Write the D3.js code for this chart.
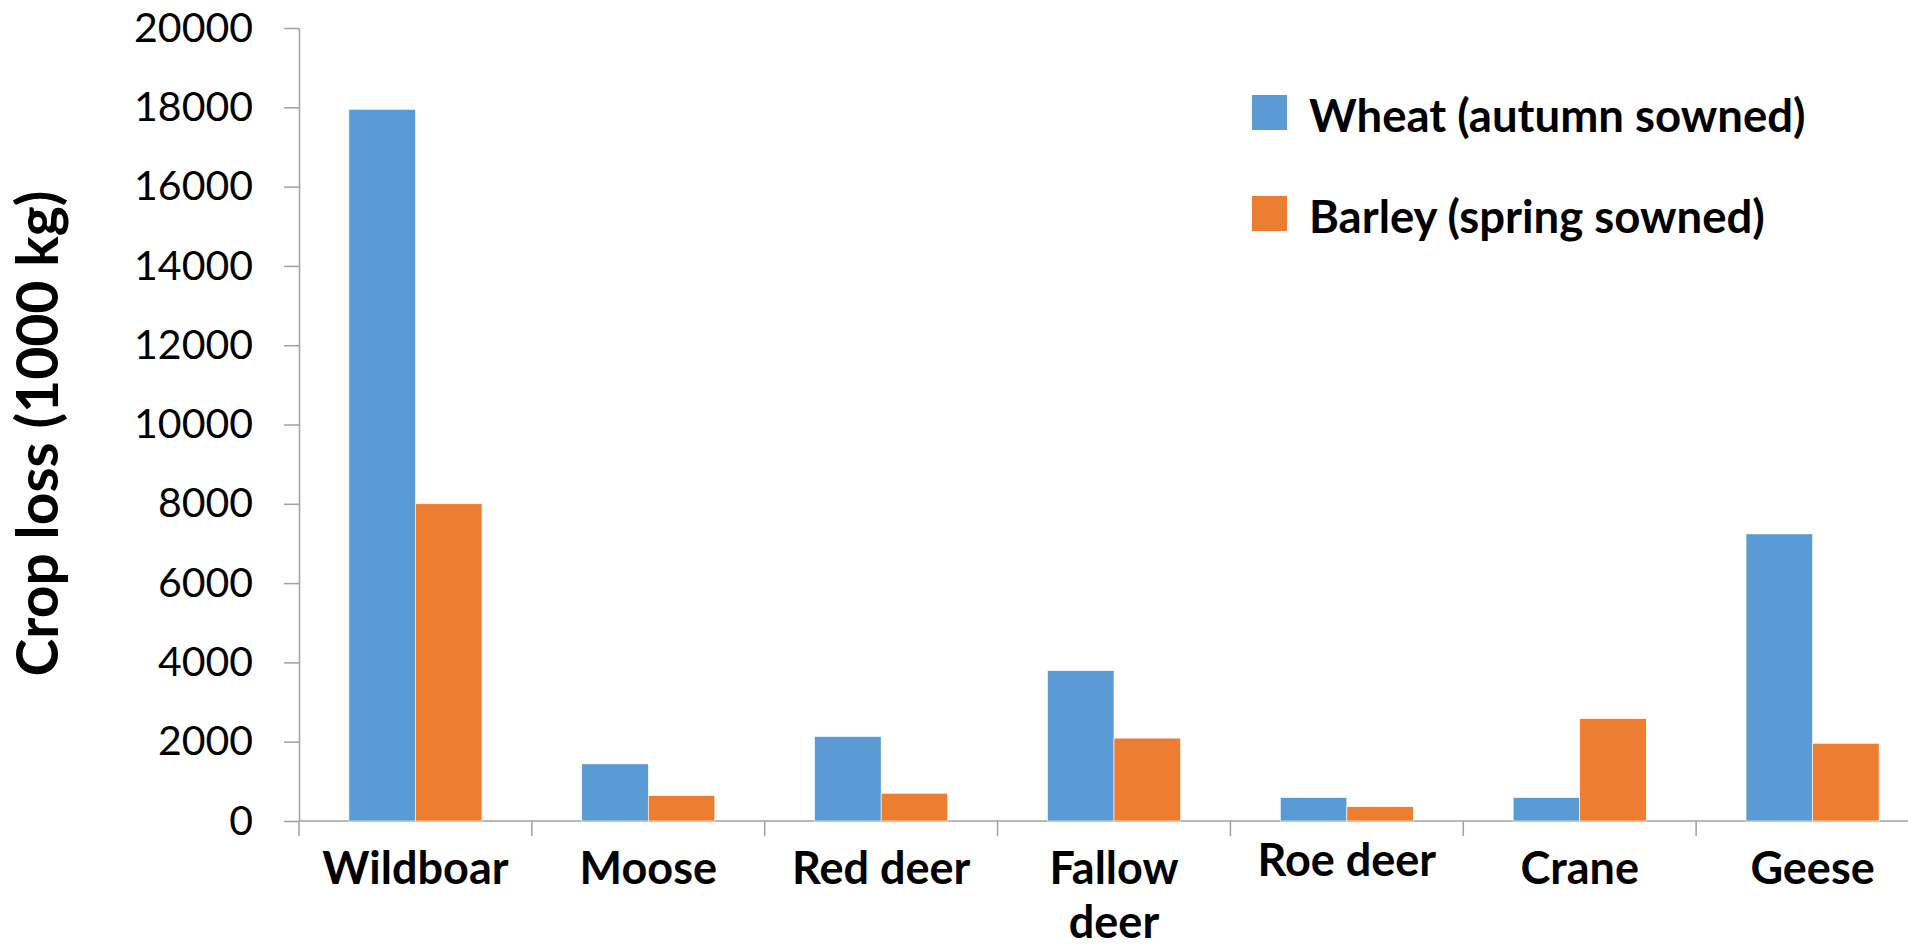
<!DOCTYPE html>
<head>
  <meta charset="utf-8">
  <script src="https://d3js.org/d3.v7.min.js"></script>
  <style>
    body { margin: 0; background: #fff; }
    svg { display: block; font-family: Lato, "Open Sans", sans-serif; }
    .y-axis text { font-family: Lato, "Open Sans", sans-serif; font-size: 41px; fill: #000; }
    .axis path, .axis line { stroke: #a0a0a0; stroke-width: 1.5px; }
    .x-label { font-size: 45px; font-weight: bold; fill: #000; }
    .legend text { font-size: 45.5px; font-weight: bold; fill: #000; }
    .y-title { font-size: 57px; font-weight: bold; fill: #000; }
  </style>
</head>

<body>
  <script>
    var animals = ["Wildboar", "Moose", "Red deer", "Fallow deer", "Roe deer", "Crane", "Geese"];
    var seriesNames = ["Wheat (autumn sowned)", "Barley (spring sowned)"];
    var wheat  = [17950, 1440, 2130, 3790, 590, 590, 7240];
    var barley = [8000, 640, 700, 2090, 360, 2580, 1960];
    var colors = ["#5b9bd5", "#ed7d31"];
    var yTicks = [0, 2000, 4000, 6000, 8000, 10000, 12000, 14000, 16000, 18000, 20000];

    var width = 1908, height = 946;
    // plot area; the last category runs a bit past the right edge like the original
    var plotLeft = 299, plotRight = 1929, plotTop = 28, plotBottom = 821;

    var svg = d3.select("body").append("svg")
      .attr("width", width)
      .attr("height", height);

    var x = d3.scaleBand()
      .domain(animals)
      .range([plotLeft, plotRight])
      .paddingInner(1.5 / 3.5)
      .paddingOuter(0.75 / 3.5);

    var xSub = d3.scaleBand()
      .domain(seriesNames)
      .range([0, x.bandwidth()]);

    var y = d3.scaleLinear()
      .domain([0, 20000])
      .range([plotBottom, plotTop]);

    var rows = animals.map(function(a, i) {
      return { animal: a, values: [wheat[i], barley[i]] };
    });

    // y axis
    svg.append("g")
      .attr("class", "axis y-axis")
      .attr("transform", "translate(" + plotLeft + ",0)")
      .call(d3.axisLeft(y).tickValues(yTicks).tickFormat(d3.format("d"))
        .tickSize(15).tickSizeOuter(0).tickPadding(31));

    // x axis line + category boundary ticks
    var xAxis = svg.append("g").attr("class", "axis x-axis");
    xAxis.append("line")
      .attr("x1", plotLeft).attr("x2", plotRight)
      .attr("y1", y(0)).attr("y2", y(0));
    xAxis.selectAll(".sep")
      .data(animals)
      .enter().append("line")
      .attr("class", "sep")
      .attr("x1", function(d) { return x(d) - x.step() * x.paddingOuter(); })
      .attr("x2", function(d) { return x(d) - x.step() * x.paddingOuter(); })
      .attr("y1", y(0)).attr("y2", y(0) + 15);

    // bars
    var groups = svg.append("g").selectAll("g")
      .data(rows)
      .enter().append("g")
      .attr("transform", function(d) { return "translate(" + x(d.animal) + ",0)"; });

    groups.selectAll("rect")
      .data(function(d) { return d.values.map(function(v, i) { return { name: seriesNames[i], value: v, i: i }; }); })
      .enter().append("rect")
      .attr("x", function(d) { return xSub(d.name); })
      .attr("width", xSub.bandwidth())
      .attr("y", function(d) { return y(d.value); })
      .attr("height", function(d) { return y(0) - y(d.value); })
      .attr("fill", function(d) { return colors[d.i]; })
      .attr("stroke", "#fff")
      .attr("stroke-width", 0.6);

    // category labels (Fallow deer wraps to two lines)
    var labels = svg.append("g").selectAll("text")
      .data(animals)
      .enter().append("text")
      .attr("class", "x-label")
      .attr("text-anchor", "middle")
      .attr("x", function(d) { return x(d) + x.bandwidth() / 2; })
      .attr("y", function(d) { return d === "Roe deer" ? 876 : 884; });

    labels.each(function(d) {
      var t = d3.select(this);
      var parts = d === "Fallow deer" ? ["Fallow", "deer"] : [d];
      parts.forEach(function(p, i) {
        t.append("tspan")
          .attr("x", x(d) + x.bandwidth() / 2)
          .attr("dy", i === 0 ? 0 : 54)
          .text(p);
      });
    });

    // y title
    svg.append("text")
      .attr("class", "y-title")
      .attr("text-anchor", "middle")
      .attr("transform", "translate(58," + ((plotTop + plotBottom) / 2 + 9) + ") rotate(-90)")
      .text("Crop loss (1000 kg)");

    // legend
    var legend = svg.append("g")
      .attr("class", "legend")
      .attr("transform", "translate(1252,95)");

    var item = legend.selectAll("g")
      .data(seriesNames)
      .enter().append("g")
      .attr("transform", function(d, i) { return "translate(0," + i * 101 + ")"; });

    item.append("rect")
      .attr("width", 35).attr("height", 35)
      .attr("fill", function(d, i) { return colors[i]; });

    item.append("text")
      .attr("x", 57)
      .attr("y", 35)
      .attr("dy", "0.04em")
      .text(function(d) { return d; });
  </script>
</body>
